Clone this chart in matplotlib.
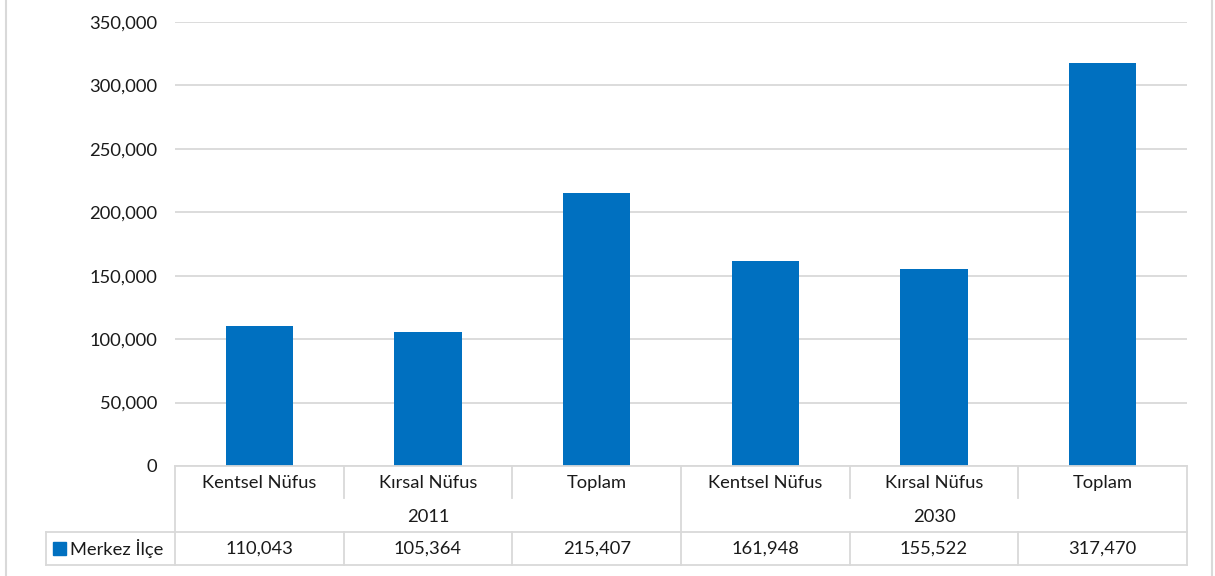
import numpy as np
import matplotlib.pyplot as plt
from matplotlib.lines import Line2D
from matplotlib.patches import Rectangle
from matplotlib.ticker import FuncFormatter

plt.rcParams['font.family'] = ['Lato', 'DejaVu Sans']

categories = ["Kentsel Nüfus", "Kırsal Nüfus", "Toplam", "Kentsel Nüfus", "Kırsal Nüfus", "Toplam"]
years = ["2011", "2030"]
series_name = "Merkez İlçe"
values = [110043, 105364, 215407, 161948, 155522, 317470]
yticks = [0, 50000, 100000, 150000, 200000, 250000, 300000, 350000]

bar_color = "#0070C0"
grid_color = "#D9D9D9"
text_color = "#1a1a1a"
fs = 13.2
W, H = 1215, 576

fig = plt.figure(figsize=(W / 100, H / 100), dpi=100)

# plot area in pixels
left, right, top, bottom = 175, 1187, 22, 466
ax = fig.add_axes([left / W, 1 - bottom / H, (right - left) / W, (bottom - top) / H])
x = np.arange(len(values))
ax.bar(x, values, width=0.40, color=bar_color, zorder=3)
ax.set_xlim(-0.5, len(values) - 0.5)
ax.set_ylim(0, 350000)
ax.set_yticks(yticks)
ax.yaxis.set_major_formatter(FuncFormatter(lambda v, p: "0" if v == 0 else f"{int(v):,}"))
ax.tick_params(axis="y", length=0, pad=13, labelsize=fs, labelcolor=text_color)
ax.set_xticks([])
ax.grid(axis="y", color=grid_color, linewidth=1.3, zorder=0)
for s in ax.spines.values():
    s.set_visible(False)

# data table below
row_h = 33
tab = fig.add_axes([left / W, 1 - (bottom + 3 * row_h) / H, (right - left) / W, 3 * row_h / H])
tab.set_xlim(-0.5, len(values) - 0.5)
tab.set_ylim(3, 0)
tab.axis("off")
lead = -0.5 - (left - 46) / ((right - left) / len(values))
lk = dict(color=grid_color, linewidth=1.3, clip_on=False)

tab.add_line(Line2D([-0.5, 5.5], [0, 0], **lk))
tab.add_line(Line2D([lead, 5.5], [2, 2], **lk))
tab.add_line(Line2D([lead, 5.5], [3, 3], **lk))
tab.add_line(Line2D([lead, lead], [2, 3], **lk))
for xv in [-0.5, 2.5, 5.5]:
    tab.add_line(Line2D([xv, xv], [0, 3], **lk))
for xv in [0.5, 1.5, 3.5, 4.5]:
    tab.add_line(Line2D([xv, xv], [0, 0.97], **lk))
    tab.add_line(Line2D([xv, xv], [2, 3], **lk))

tk = dict(ha="center", va="center", fontsize=fs, color=text_color)
for i, c in enumerate(categories):
    tab.text(i, 0.52, c, **tk)
    tab.text(i, 2.5, f"{values[i]:,}", **tk)
for j, yr in enumerate(years):
    tab.text(1 + 3 * j, 1.55, yr, **tk)

tab.add_patch(Rectangle((lead + 0.042, 2.3), 0.074, 0.39, color=bar_color, clip_on=False))
tab.text(lead + 0.145, 2.5, series_name, ha="left", va="center", fontsize=fs, color=text_color)

# chart area border
fig.add_artist(Line2D([6 / W, 6 / W], [0, 1], color=grid_color, linewidth=1.5))
fig.add_artist(Line2D([1212 / W, 1212 / W], [0, 1], color=grid_color, linewidth=1.5))

fig.savefig("out.png", dpi=100)
